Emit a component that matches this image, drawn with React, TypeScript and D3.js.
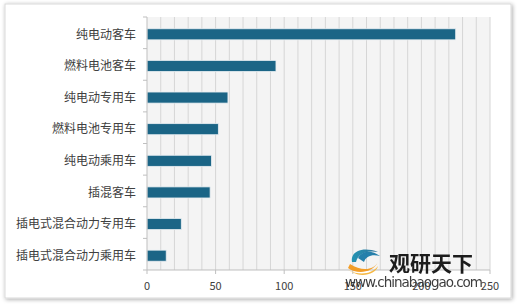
import React from "react";
import * as d3 from "d3";

const categories = [
  "纯电动客车",
  "燃料电池客车",
  "纯电动专用车",
  "燃料电池专用车",
  "纯电动乘用车",
  "插混客车",
  "插电式混合动力专用车",
  "插电式混合动力乘用车",
];
const values = [225, 94, 59, 52, 47, 46, 25, 14];
const xTicks = [0, 50, 100, 150, 200, 250];
const minorStep = 10;

const W = 520;
const H = 306;
const left = 147;
const right = 490;
const top = 17;
const bottom = 270;

export default function App() {
  const x = d3.scaleLinear().domain([0, 250]).range([left, right]);
  const y = d3.scaleBand<string>().domain(categories).range([top, bottom]).paddingInner(0.65).paddingOuter(0.325);
  const band = (bottom - top) / categories.length;
  const minor = d3.range(minorStep, 250 + 0.1, minorStep);
  const font = "'Noto Sans CJK SC', 'Noto Sans', sans-serif";
  return (
    <div style={{ position: "absolute", left: 0, top: 0 }}>
      <svg width={W} height={H} style={{ display: "block" }}>
        <defs>
          <filter id="sh" x="-5%" y="-5%" width="110%" height="110%">
            <feGaussianBlur in="SourceAlpha" stdDeviation="2" />
            <feOffset dx="1" dy="1" />
            <feComponentTransfer>
              <feFuncA type="linear" slope="0.35" />
            </feComponentTransfer>
            <feMerge>
              <feMergeNode />
              <feMergeNode in="SourceGraphic" />
            </feMerge>
          </filter>
          <linearGradient id="lg1" x1="0" y1="0" x2="1" y2="0">
            <stop offset="0" stopColor="#1a8fb0" />
            <stop offset="1" stopColor="#2a6f98" />
          </linearGradient>
        </defs>
        <rect x={0} y={0} width={W} height={H} fill="#ffffff" />
        <rect x={5} y={4} width={506} height={294} fill="#ffffff" stroke="#d9d9d9" strokeWidth={1} filter="url(#sh)" />
        <rect x={left} y={top} width={right - left} height={bottom - top} fill="#f4f4f4" />
        {minor.map((v) => (
          <line key={v} x1={x(v)} x2={x(v)} y1={top} y2={bottom} stroke="#d6d6d6" strokeWidth={1} />
        ))}
        {values.map((v, i) => (
          <rect
            key={categories[i]}
            x={x(0)}
            y={(y(categories[i]) ?? 0) + 1.5}
            width={x(v) - x(0)}
            height={y.bandwidth()}
            fill="#1b6586"
            stroke="#e8eef2"
            strokeWidth={0.8}
          />
        ))}
        <line x1={left} x2={left} y1={top} y2={bottom} stroke="#bfbfbf" />
        {d3.range(categories.length + 1).map((i) => (
          <line key={i} x1={left - 4} x2={left} y1={top + i * band} y2={top + i * band} stroke="#bfbfbf" />
        ))}
        <line x1={left} x2={right} y1={bottom} y2={bottom} stroke="#bfbfbf" />
        {xTicks.map((t) => (
          <g key={t}>
            <line x1={x(t)} x2={x(t)} y1={bottom} y2={bottom + 4} stroke="#bfbfbf" />
            <text x={x(t)} y={290} textAnchor="middle" fontSize={11} fill="#404040" fontFamily={font}>
              {t}
            </text>
          </g>
        ))}
        {categories.map((c) => (
          <text
            key={c}
            x={136}
            y={(y(c) ?? 0) + y.bandwidth() / 2 + 1.5}
            dy="0.35em"
            textAnchor="end"
            fontSize={12}
            fill="#404040"
            fontFamily={font}
          >
            {c}
          </text>
        ))}
        {/* watermark */}
        <g opacity={0.95}>
          <path d="M352,262 C350,252 362,246 378,252 C366,250 358,254 356,262 Z" fill="url(#lg1)" />
          <path d="M358,258 C362,250 372,250 380,256 C372,254 366,256 364,262 Z" fill="#1c7aa8" />
          <path d="M348,268 C356,274 372,274 378,262 C374,270 362,272 350,264 Z" fill="#f39a1e" />
          <path d="M352,272 C362,278 376,274 378,266 C372,274 360,276 348,270 Z" fill="#f5b53a" />
          <text x={389} y={271} fontSize={21} fontWeight="bold" fill="#111" fontFamily={font}>
            观研天下
          </text>
          <text x={345} y={287} fontSize={13.5} fill="#333" fontFamily="'DejaVu Sans', sans-serif" textLength={138}>
            www.chinabaogao.com
          </text>
        </g>
      </svg>
    </div>
  );
}
